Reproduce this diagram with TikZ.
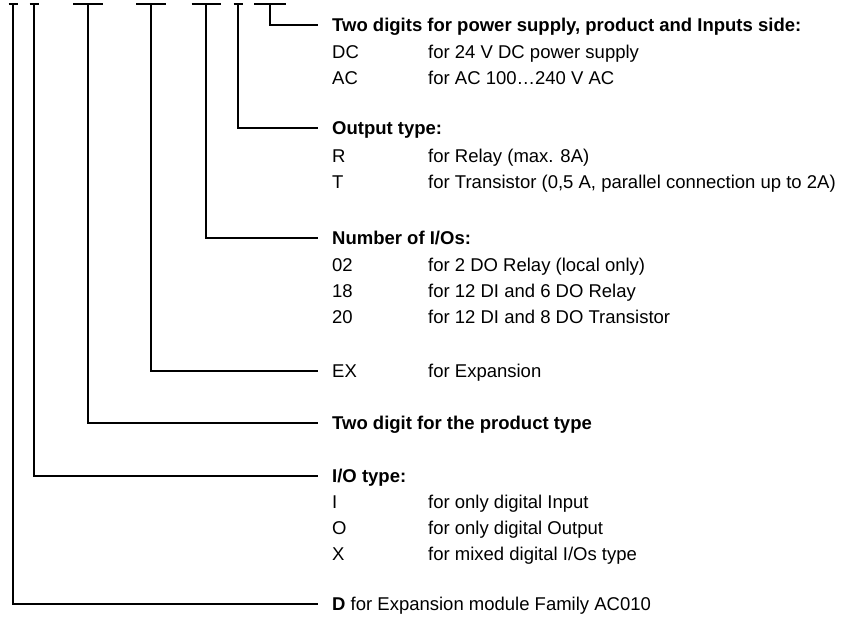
\documentclass[tikz,border=0pt]{standalone}
\usepackage{fontspec}
\setmainfont{Liberation Sans}
\begin{document}
\begin{tikzpicture}[x=1pt,y=-1pt,
  lbl/.style={anchor=base west,inner sep=0pt,font=\fontsize{18.5}{22}\selectfont},
  ttl/.style={lbl,font=\fontsize{18.5}{22}\selectfont\bfseries},
  wire/.style={draw=black,line width=1.15pt}]
\useasboundingbox (0,0) rectangle (842,624);
% top ticks
\coordinate (b1) at (13,4);
\coordinate (b2) at (34,4);
\coordinate (b3) at (88,4);
\coordinate (b4) at (151,4);
\coordinate (b5) at (206,4);
\coordinate (b6) at (238,4);
\coordinate (b7) at (270,4);
\draw[wire] ([xshift=-4.5pt]b1) -- ([xshift=4.5pt]b1);
\draw[wire] ([xshift=-4.5pt]b2) -- ([xshift=4.5pt]b2);
\draw[wire] ([xshift=-15pt]b3) -- ([xshift=15pt]b3);
\draw[wire] ([xshift=-15pt]b4) -- ([xshift=15pt]b4);
\draw[wire] ([xshift=-14.5pt]b5) -- ([xshift=14.5pt]b5);
\draw[wire] ([xshift=-4.5pt]b6) -- ([xshift=4.5pt]b6);
\draw[wire] ([xshift=-16pt]b7) -- ([xshift=16pt]b7);
% line ends
\coordinate (e1) at (318,25);
\coordinate (e2) at (318,128);
\coordinate (e3) at (318,238);
\coordinate (e4) at (318,371);
\coordinate (e5) at (318,423);
\coordinate (e6) at (318,476);
\coordinate (e7) at (318,604);
% titles and entries
\node[ttl] (t1) at (332,31.6) {Two digits for power supply, product and Inputs side:};
\node[lbl] (c11) at (332,58.6) {DC};  \node[lbl] (d11) at (428,58.6) {for 24 V DC power supply};
\node[lbl] (c12) at (332,84.6) {AC};  \node[lbl] (d12) at (428,84.6) {for AC 100…240 V AC};
\node[ttl] (t2) at (332,134.6) {Output type:};
\node[lbl] (c21) at (332,162.6) {R};  \node[lbl] (d21) at (428,162.6) {for Relay (max. 8A)};
\node[lbl] (c22) at (332,188.6) {T};  \node[lbl] (d22) at (428,188.6) {for Transistor (0,5 A, parallel connection up to 2A)};
\node[ttl] (t3) at (332,244.6) {Number of I/Os:};
\node[lbl] (c31) at (332,271.6) {02}; \node[lbl] (d31) at (428,271.6) {for 2 DO Relay (local only)};
\node[lbl] (c32) at (332,297.6) {18}; \node[lbl] (d32) at (428,297.6) {for 12 DI and 6 DO Relay};
\node[lbl] (c33) at (332,323.6) {20}; \node[lbl] (d33) at (428,323.6) {for 12 DI and 8 DO Transistor};
\node[lbl] (t4) at (332,377.6) {EX};  \node[lbl] (d41) at (428,377.6) {for Expansion};
\node[ttl] (t5) at (332,429.6) {Two digit for the product type};
\node[ttl] (t6) at (332,482.6) {I/O type:};
\node[lbl] (c61) at (332,508.6) {I};  \node[lbl] (d61) at (428,508.6) {for only digital Input};
\node[lbl] (c62) at (332,534.6) {O};  \node[lbl] (d62) at (428,534.6) {for only digital Output};
\node[lbl] (c63) at (332,560.6) {X};  \node[lbl] (d63) at (428,560.6) {for mixed digital I/Os type};
\node[lbl] (t7) at (332,610.6) {\textbf{D} for Expansion module Family AC010};
% connectors
\draw[wire] (b7) |- (e1);
\draw[wire] (b6) |- (e2);
\draw[wire] (b5) |- (e3);
\draw[wire] (b4) |- (e4);
\draw[wire] (b3) |- (e5);
\draw[wire] (b2) |- (e6);
\draw[wire] (b1) |- (e7);
\end{tikzpicture}
\end{document}
